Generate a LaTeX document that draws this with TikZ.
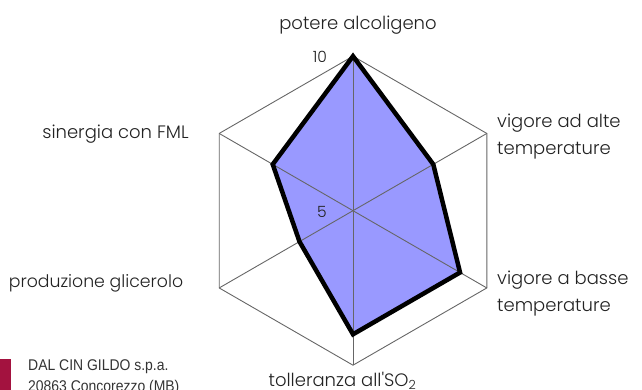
\documentclass[tikz,border=0pt]{standalone}
\usepackage{fontspec}
\setmainfont{Liberation Sans}
\newfontfamily\labfont{Poppins}[UprightFont={* Light}]
\usetikzlibrary{calc}
\definecolor{fillblue}{HTML}{9999FF}
\definecolor{logored}{HTML}{A3123F}
\definecolor{txt}{HTML}{222222}
\begin{document}
\begin{tikzpicture}[x=1pt,y=1pt,
  grid/.style={draw=black!60,line width=0.9pt},
  lab/.style={font=\labfont\fontsize{18}{27}\selectfont,text=txt,inner sep=0pt},
  scalelab/.style={font=\labfont\fontsize{15.5}{15.5}\selectfont,text=txt,inner sep=0pt},
  datapoly/.style={draw=black,line width=4.5pt,line join=miter}]
\useasboundingbox (0,0) rectangle (642,390);
\coordinate (C) at (353,179.3);
\def\R{154.5}
\foreach \n/\a in {t/90,ur/30,lr/-30,b/-90,ll/-150,ul/150}{
  \coordinate (\n) at ($(C)+(\a:\R)$);
}
% hexagon
\draw[grid] (t) -- (ur) -- (lr) -- (b) -- (ll) -- (ul) -- cycle;
% data
\coordinate (dt) at ($(C)!1.0!(t)$);
\coordinate (dur) at ($(C)!0.6!(ur)$);
\coordinate (dlr) at ($(C)!0.8!(lr)$);
\coordinate (db) at ($(C)!0.8!(b)$);
\coordinate (dll) at ($(C)!0.4!(ll)$);
\coordinate (dul) at ($(C)!0.6!(ul)$);
\fill[fillblue] (dt) -- (dur) -- (dlr) -- (db) -- (dll) -- (dul) -- cycle;
% spokes
\draw[grid] (t) -- (b);
\draw[grid] (ur) -- (ll);
\draw[grid] (ul) -- (lr);
\draw[datapoly] (dt) -- (dur) -- (dlr) -- (db) -- (dll) -- (dul) -- cycle;
% labels
\node[lab] (l1) at (358,365) {potere alcoligeno};
\node[lab,anchor=west,align=left] (l2) at (497,253.5) {vigore ad alte\\temperature};
\node[lab,anchor=west,align=left] (l3) at (497,96.5) {vigore a basse\\temperature};
\node[lab] (l4) at (342.5,9.5) {tolleranza all'SO\textsubscript{2}};
\node[lab,font=\labfont\fontsize{17.3}{27}\selectfont] (l5) at (96,107) {produzione glicerolo};
\node[lab] (l6) at (115.5,256) {sinergia con FML};
\node[scalelab] (s10) at (320,333) {10};
\node[scalelab] (s5) at (322,178) {5};
% logo
\fill[logored] (0,0) rectangle (11,31);
\node[anchor=west,inner sep=0pt,text=black!80,font=\fontsize{15.5}{15.5}\selectfont] (co) at (28,23) {\scalebox{0.9}[1]{DAL CIN GILDO s.p.a.}};
\node[anchor=west,inner sep=0pt,text=black!80,font=\fontsize{15.5}{15.5}\selectfont] (ad) at (28,3) {\scalebox{0.9}[1]{20863 Concorezzo (MB)}};
\end{tikzpicture}
\end{document}
